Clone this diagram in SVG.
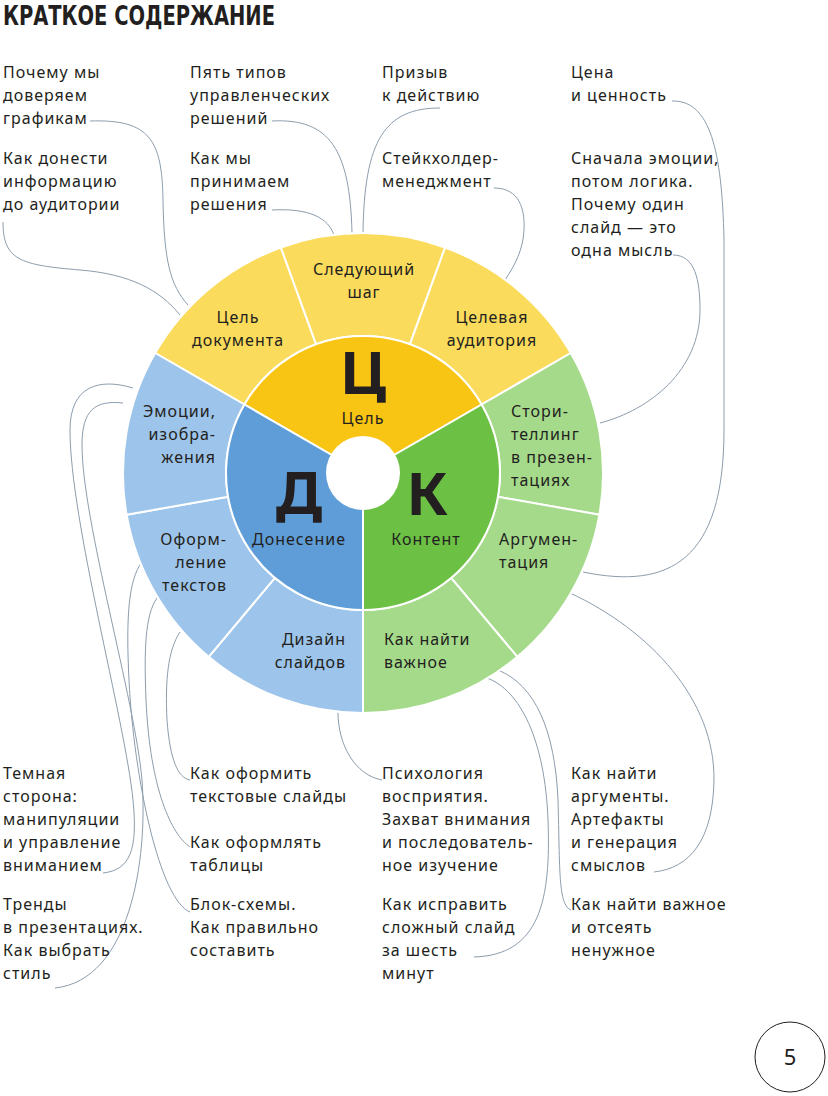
<svg xmlns="http://www.w3.org/2000/svg" width="828" height="1096" viewBox="0 0 828 1096">
<style>
.t{font-family:"Noto Sans","DejaVu Sans",sans-serif;font-size:16px;fill:#231F20;letter-spacing:1px}
.m{text-anchor:middle}
.e{text-anchor:end}
.big{font-family:"Noto Sans","DejaVu Sans",sans-serif;font-size:60px;font-weight:700;fill:#231F20;text-anchor:middle}
.c{fill:none;stroke:#8C9DAD;stroke-width:1}
.s{stroke:#FFFFFF;stroke-width:2;stroke-linejoin:round}
.yo{fill:#FBDB5B}.yi{fill:#F9C514}
.bo{fill:#9DC4EA}.bi{fill:#5E9DD8}
.go{fill:#A5DA8B}.gi{fill:#6CC145}
</style>
<rect width="828" height="1096" fill="#FFFFFF"/>
<g id="title"><text x="3" y="25" font-family="'DejaVu Sans Condensed','Liberation Sans Narrow','DejaVu Sans',sans-serif" font-size="27" font-weight="700" fill="#231F20" textLength="272" lengthAdjust="spacingAndGlyphs">КРАТКОЕ СОДЕРЖАНИЕ</text></g>

<g id="connectors">
<path class="c" d="M90 121 C150 119 162 140 163 200 C164 260 170 285 188 305"/>
<path class="c" d="M3 222 C3 260 20 265 80 270 C130 274 160 290 180 315"/>
<path class="c" d="M272 121 C330 118 350 150 352 233"/>
<path class="c" d="M272 210 C310 208 328 218 334 235"/>
<path class="c" d="M440 108 C385 108 364 140 363 234"/>
<path class="c" d="M494 188 C520 188 525 210 524 230 C523 250 515 265 505 280"/>
<path class="c" d="M672 101 C710 100 722 150 724 240 L724 430 C724 560 670 590 583 572"/>
<path class="c" d="M673 255 C695 255 700 280 700 310 C700 370 650 410 600 423"/>
<path class="c" d="M133 388 C100 378 70 385 70 430 C70 520 125 720 133 800 C138 850 130 870 103 873"/>
<path class="c" d="M123 403 C95 400 82 410 82 445 C82 520 135 700 142 780 C148 860 130 980 55 988"/>
<path class="c" d="M142 562 C128 580 126 620 129 680 C134 780 160 900 190 912"/>
<path class="c" d="M157 598 C145 615 144 650 146 700 C150 790 172 835 190 847"/>
<path class="c" d="M180 632 C168 650 165 680 167 720 C170 760 178 778 190 780"/>
<path class="c" d="M338 712 C338 745 355 775 382 780"/>
<path class="c" d="M487 678 C520 690 545 740 548 820 C551 900 540 955 474 957"/>
<path class="c" d="M498 670 C535 685 555 730 558 800 C560 870 558 905 571 910"/>
<path class="c" d="M570 593 C650 630 715 700 714 780 C713 840 690 868 654 872"/>
</g>

<g id="wheel">
<g id="seg-goal-doc"><path class="yo s" d="M155.2 353 A240 240 0 0 1 280.9 247.5 L316.1 344.3 A137 137 0 0 0 244.4 404.5 Z"/><text class="t m" x="238" y="323">Цель<tspan x="238" dy="23">документа</tspan></text></g>
<g id="seg-next-step"><path class="yo s" d="M280.9 247.5 A240 240 0 0 1 445.1 247.5 L409.9 344.3 A137 137 0 0 0 316.1 344.3 Z"/><text class="t m" x="364" y="275">Следующий<tspan x="364" dy="23">шаг</tspan></text></g>
<g id="seg-audience"><path class="yo s" d="M445.1 247.5 A240 240 0 0 1 570.8 353 L481.6 404.5 A137 137 0 0 0 409.9 344.3 Z"/><text class="t m" x="492" y="323">Целевая<tspan x="492" dy="23">аудитория</tspan></text></g>
<g id="seg-story"><path class="go s" d="M570.8 353 A240 240 0 0 1 599.4 514.7 L497.9 496.8 A137 137 0 0 0 481.6 404.5 Z"/><text class="t" x="511" y="417">Стори-<tspan x="511" dy="23">теллинг</tspan><tspan x="511" dy="23">в презен-</tspan><tspan x="511" dy="23">тациях</tspan></text></g>
<g id="seg-argument"><path class="go s" d="M599.4 514.7 A240 240 0 0 1 517.3 656.8 L451.1 577.9 A137 137 0 0 0 497.9 496.8 Z"/><text class="t" x="499" y="545">Аргумен-<tspan x="499" dy="23">тация</tspan></text></g>
<g id="seg-important"><path class="go s" d="M517.3 656.8 A240 240 0 0 1 363 713 L363 610 A137 137 0 0 0 451.1 577.9 Z"/><text class="t" x="384" y="645">Как найти<tspan x="384" dy="23">важное</tspan></text></g>
<g id="seg-design"><path class="bo s" d="M363 713 A240 240 0 0 1 208.7 656.8 L274.9 577.9 A137 137 0 0 0 363 610 Z"/><text class="t e" x="346" y="645">Дизайн<tspan x="346" dy="23">слайдов</tspan></text></g>
<g id="seg-texts"><path class="bo s" d="M208.7 656.8 A240 240 0 0 1 126.6 514.7 L228.1 496.8 A137 137 0 0 0 274.9 577.9 Z"/><text class="t e" x="227" y="545">Оформ-<tspan x="227" dy="23">ление</tspan><tspan x="227" dy="23">текстов</tspan></text></g>
<g id="seg-emotions"><path class="bo s" d="M126.6 514.7 A240 240 0 0 1 155.2 353 L244.4 404.5 A137 137 0 0 0 228.1 496.8 Z"/><text class="t e" x="216" y="417">Эмоции,<tspan x="216" dy="23">изобра-</tspan><tspan x="216" dy="23">жения</tspan></text></g>
<g id="inner-goal"><path class="yi s" d="M363 473 L244.4 404.5 A137 137 0 0 1 481.6 404.5 Z"/><text class="big" x="363" y="394">Ц</text><text class="t m" x="363" y="424">Цель</text></g>
<g id="inner-content"><path class="gi s" d="M363 473 L481.6 404.5 A137 137 0 0 1 363 610 Z"/><text class="big" x="427" y="515">К</text><text class="t m" x="426" y="545">Контент</text></g>
<g id="inner-delivery"><path class="bi s" d="M363 473 L363 610 A137 137 0 0 1 244.4 404.5 Z"/><text class="big" x="299" y="514">Д</text><text class="t m" x="299" y="545">Донесение</text></g>
<circle cx="363" cy="473" r="37" fill="#FFFFFF"/>
</g>

<g id="label-charts"><text class="t" x="3" y="78">Почему мы<tspan x="3" dy="23">доверяем</tspan><tspan x="3" dy="23">графикам</tspan></text></g>
<g id="label-convey"><text class="t" x="3" y="164">Как донести<tspan x="3" dy="23">информацию</tspan><tspan x="3" dy="23">до аудитории</tspan></text></g>
<g id="label-five-types"><text class="t" x="190" y="78">Пять типов<tspan x="190" dy="23">управленческих</tspan><tspan x="190" dy="23">решений</tspan></text></g>
<g id="label-decisions"><text class="t" x="190" y="164">Как мы<tspan x="190" dy="23">принимаем</tspan><tspan x="190" dy="23">решения</tspan></text></g>
<g id="label-cta"><text class="t" x="382" y="78">Призыв<tspan x="382" dy="23">к действию</tspan></text></g>
<g id="label-stakeholder"><text class="t" x="382" y="164">Стейкхолдер-<tspan x="382" dy="23">менеджмент</tspan></text></g>
<g id="label-price"><text class="t" x="571" y="78">Цена<tspan x="571" dy="23">и ценность</tspan></text></g>
<g id="label-emotions-first"><text class="t" x="571" y="164">Сначала эмоции,<tspan x="571" dy="23">потом логика.</tspan><tspan x="571" dy="23">Почему один</tspan><tspan x="571" dy="23">слайд — это</tspan><tspan x="571" dy="23">одна мысль</tspan></text></g>

<g id="label-dark-side"><text class="t" x="3" y="779">Темная<tspan x="3" dy="23">сторона:</tspan><tspan x="3" dy="23">манипуляции</tspan><tspan x="3" dy="23">и управление</tspan><tspan x="3" dy="23">вниманием</tspan></text></g>
<g id="label-trends"><text class="t" x="3" y="910">Тренды<tspan x="3" dy="23">в презентациях.</tspan><tspan x="3" dy="23">Как выбрать</tspan><tspan x="3" dy="23">стиль</tspan></text></g>
<g id="label-text-slides"><text class="t" x="190" y="779">Как оформить<tspan x="190" dy="23">текстовые слайды</tspan></text></g>
<g id="label-tables"><text class="t" x="190" y="848">Как оформлять<tspan x="190" dy="23">таблицы</tspan></text></g>
<g id="label-flowcharts"><text class="t" x="190" y="910">Блок-схемы.<tspan x="190" dy="23">Как правильно</tspan><tspan x="190" dy="23">составить</tspan></text></g>
<g id="label-psychology"><text class="t" x="382" y="779">Психология<tspan x="382" dy="23">восприятия.</tspan><tspan x="382" dy="23">Захват внимания</tspan><tspan x="382" dy="23">и последователь-</tspan><tspan x="382" dy="23">ное изучение</tspan></text></g>
<g id="label-fix-slide"><text class="t" x="382" y="910">Как исправить<tspan x="382" dy="23">сложный слайд</tspan><tspan x="382" dy="23">за шесть</tspan><tspan x="382" dy="23">минут</tspan></text></g>
<g id="label-arguments"><text class="t" x="571" y="779">Как найти<tspan x="571" dy="23">аргументы.</tspan><tspan x="571" dy="23">Артефакты</tspan><tspan x="571" dy="23">и генерация</tspan><tspan x="571" dy="23">смыслов</tspan></text></g>
<g id="label-find-important"><text class="t" x="571" y="910">Как найти важное<tspan x="571" dy="23">и отсеять</tspan><tspan x="571" dy="23">ненужное</tspan></text></g>

<g id="page-number"><circle cx="790" cy="1057" r="35" fill="none" stroke="#231F20" stroke-width="1"/><text x="790" y="1065" font-family="'Noto Sans',sans-serif" font-size="22" fill="#231F20" text-anchor="middle">5</text></g>
</svg>
